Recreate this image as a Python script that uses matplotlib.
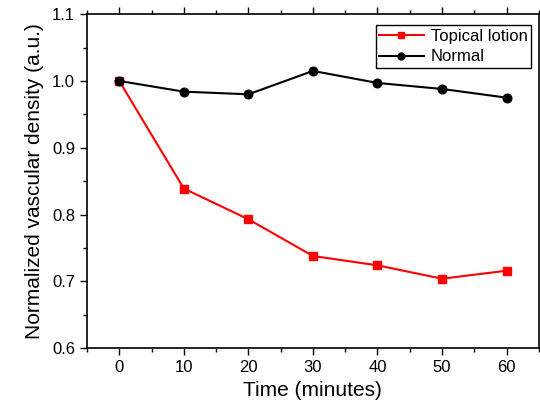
import matplotlib
matplotlib.use("Agg")
import matplotlib.pyplot as plt
from matplotlib.ticker import MultipleLocator

plt.rcParams['font.family'] = ['Liberation Sans', 'DejaVu Sans']

time = [0, 10, 20, 30, 40, 50, 60]
topical = [1.0, 0.839, 0.793, 0.738, 0.724, 0.704, 0.716]
normal = [1.0, 0.984, 0.980, 1.015, 0.997, 0.988, 0.975]

fig = plt.figure(figsize=(5.4, 4.16), dpi=100)
ax = fig.add_axes([0.161, 0.163, 0.837, 0.803])

ax.plot(time, topical, color='#ff0000', lw=1.5, marker='s', ms=5.3, label='Topical lotion')
ax.plot(time, normal, color='black', lw=1.5, marker='o', ms=6.2, label='Normal')

ax.set_xlim(-5, 65)
ax.set_ylim(0.6, 1.1)
ax.xaxis.set_major_locator(MultipleLocator(10))
ax.xaxis.set_minor_locator(MultipleLocator(5))
ax.yaxis.set_major_locator(MultipleLocator(0.1))
ax.yaxis.set_minor_locator(MultipleLocator(0.05))
ax.yaxis.set_major_formatter(matplotlib.ticker.FormatStrFormatter('%.1f'))

ax.tick_params(which='major', direction='out', length=5, width=1, labelsize=12,
               top=True, right=False)
ax.tick_params(which='minor', direction='out', length=3, width=1, top=True, right=False)
for s in ax.spines.values():
    s.set_linewidth(1.2)

ax.set_xlabel('Time (minutes)', fontsize=15, labelpad=4)
ax.set_ylabel('Normalized vascular density (a.u.)', fontsize=15, labelpad=6)

leg = ax.legend(loc='upper right', fontsize=12, frameon=True, fancybox=False,
                edgecolor='black', framealpha=1, handlelength=2.7, markerscale=0.8,
                borderpad=0.2, labelspacing=0.35, handletextpad=0.4,
                borderaxespad=0, bbox_to_anchor=(0.982, 0.967))
leg.get_frame().set_linewidth(1.0)

fig.savefig('out.png', dpi=100)
